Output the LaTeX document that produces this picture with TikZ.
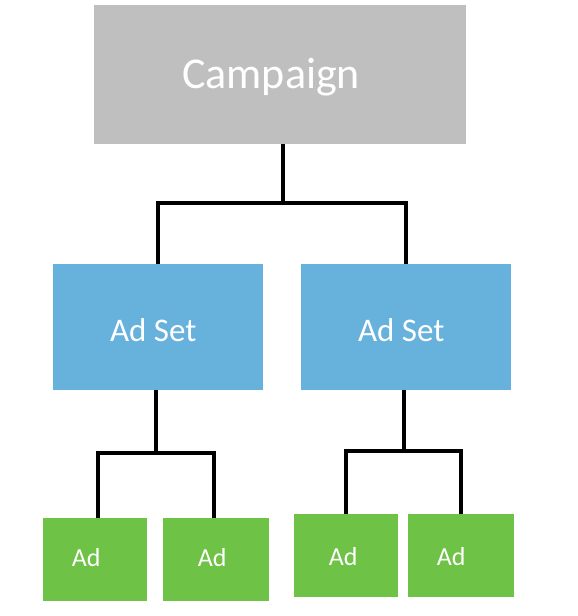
\documentclass[tikz,border=0pt]{standalone}
\usepackage{fontspec}
\setmainfont{Carlito}
\usetikzlibrary{calc}
\definecolor{campgray}{HTML}{BFBFBF}
\definecolor{setblue}{HTML}{67B1DD}
\definecolor{adgreen}{HTML}{6EC246}
\begin{document}
\begin{tikzpicture}[x=1pt,y=-1pt,
  box/.style={draw=none,inner sep=0pt,anchor=north west},
  campbox/.style={box,fill=campgray,minimum width=372pt,minimum height=139pt},
  setbox/.style={box,fill=setblue,minimum width=210pt,minimum height=126pt},
  adbox/.style={box,fill=adgreen,minimum width=105pt,minimum height=83pt},
  lbl/.style={text=white,inner sep=0pt},
  conn/.style={draw=black,line width=4pt,line join=miter}]
\useasboundingbox (0,0) rectangle (578,616);
\fill[white] (0,0) rectangle (578,616);
% boxes
\node[campbox] (camp) at (94,5) {};
\node[setbox] (as1) at (53,264) {};
\node[setbox] (as2) at (301,264) {};
\node[adbox,minimum width=104pt] (ad1) at (43,518) {};
\node[adbox,minimum width=106pt] (ad2) at (163,518) {};
\node[adbox,minimum width=104pt] (ad3) at (294,514) {};
\node[adbox,minimum width=106pt] (ad4) at (408,514) {};
% labels
\node[lbl,font=\fontsize{44}{50}\selectfont] (tcamp) at ($(camp.center)+(-9,2)$) {Campaign};
\node[lbl,font=\fontsize{33}{38}\selectfont] (tas1) at ($(as1.center)+(-5,3)$) {Ad Set};
\node[lbl,font=\fontsize{33}{38}\selectfont] (tas2) at ($(as2.center)+(-5,3)$) {Ad Set};
\node[lbl,font=\fontsize{26}{30}\selectfont] (tad1) at ($(ad1.center)+(-9,-2)$) {Ad};
\node[lbl,font=\fontsize{26}{30}\selectfont] (tad2) at ($(ad2.center)+(-4,-2)$) {Ad};
\node[lbl,font=\fontsize{26}{30}\selectfont] (tad3) at ($(ad3.center)+(-3,1)$) {Ad};
\node[lbl,font=\fontsize{26}{30}\selectfont] (tad4) at ($(ad4.center)+(-10,1)$) {Ad};
% junctions
\coordinate (j0) at (283,203);
\coordinate (j1) at (156,453);
\coordinate (j2) at (404,451);
% connectors
\draw[conn] (camp.south -| j0) -- (j0);
\draw[conn] (as1.north) |- (j0) -| (as2.north);
\draw[conn] (as1.south -| j1) -- (j1);
\draw[conn] ($(ad1.north)+(3,0)$) |- (j1) -| ($(ad2.north)+(-2.5,0)$);
\draw[conn] (as2.south -| j2) -- (j2);
\draw[conn] (ad3.north) |- (j2) -| (ad4.north);
\end{tikzpicture}
\end{document}
